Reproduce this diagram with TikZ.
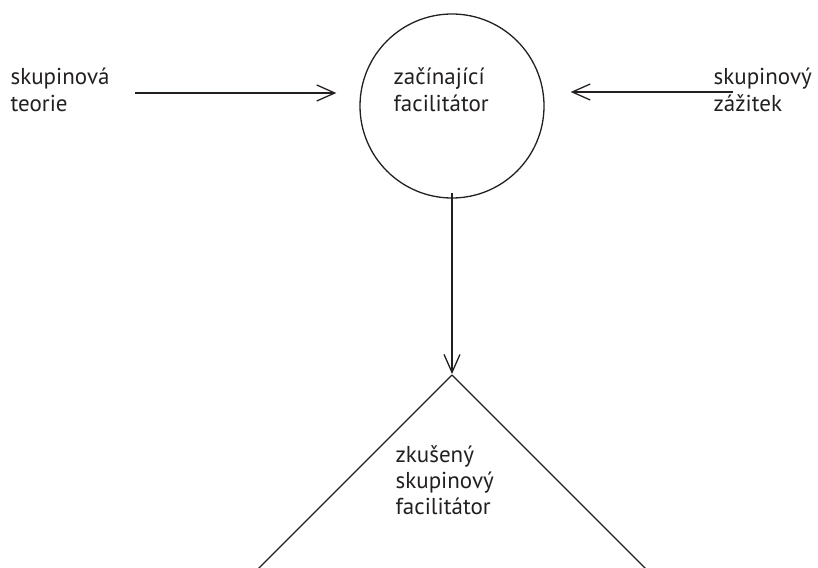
\documentclass[tikz,border=0pt]{standalone}
\usepackage{fontspec}
\setmainfont{PT Sans}
\usetikzlibrary{arrows.meta}
\definecolor{ink}{HTML}{231F20}

\begin{document}
\begin{tikzpicture}[x=1pt,y=-1pt,line width=1.3pt,color=ink,
  lbl/.style={anchor=base west,align=left,inner sep=0pt,font=\fontsize{23}{26}\selectfont},
  >={Straight Barb[length=18pt,width=16pt]}]
\useasboundingbox (0,0) rectangle (818,567);
\clip (0,0) rectangle (818,567);
% beginner in the middle
\node[draw,circle,minimum size=184pt,inner sep=0pt] (start) at (452,106) {};
\node[lbl] (starttxt) at (393,111) {začínající\\facilitátor};
% inputs
\node[lbl] (theory) at (10,111) {skupinová\\teorie};
\node[lbl] (exper) at (713,111) {skupinový\\zážitek};
\coordinate (theoryend) at (135,93);
\coordinate (experend) at (733,92);
\draw[->,shorten >=23pt] (theoryend) -- (theoryend -| start.west);
\draw[->,shorten >=26pt] (experend) -- (experend -| start.east);
% experienced one below
\coordinate (top) at (452,375);
\draw (top) -- +(-230,230);
\draw (top) -- +(230,230);
\node[lbl] (exptxt) at (395,514) {zkušený\\skupinový\\facilitátor};
\draw[->,shorten >=1pt] ([yshift=6pt]start.south) -- (top);
\end{tikzpicture}
\end{document}
